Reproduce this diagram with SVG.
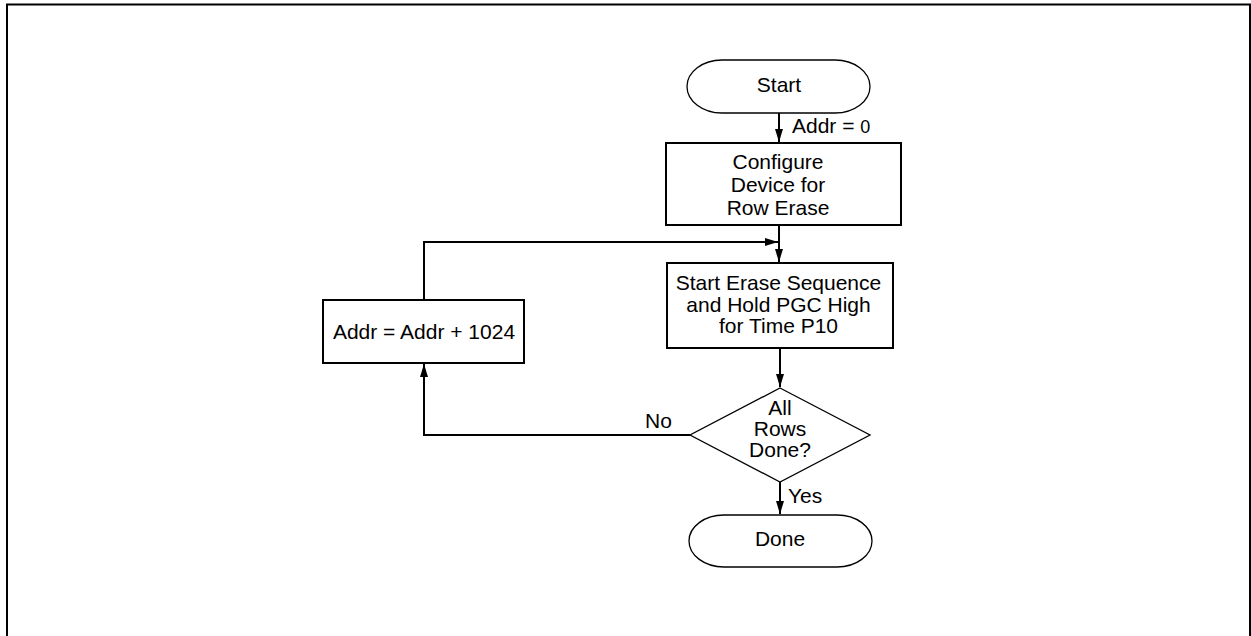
<svg xmlns="http://www.w3.org/2000/svg" width="1251" height="636" viewBox="0 0 1251 636">
<style>
.frame{fill:none;stroke:#000;stroke-width:2}
.box{fill:#fff;stroke:#000;stroke-width:2}
.shape{fill:#fff;stroke:#000;stroke-width:1.3}
.conn{fill:none;stroke:#000;stroke-width:2}
text{font-family:"Liberation Sans",Arial,sans-serif;font-size:21px;fill:#000}
.c{text-anchor:middle}
</style>
<defs>
<marker id="arr" markerUnits="userSpaceOnUse" markerWidth="14" markerHeight="10" viewBox="0 0 14 10" refX="13" refY="5" orient="auto">
<path d="M0,1 L13,5 L0,9 Z" fill="#000"/>
</marker>
</defs>
<rect width="1251" height="636" fill="#fff"/>
<path class="frame" d="M7,636 V4.5 H1250 V636"/>
<g id="connectors">
<line class="conn" x1="779" y1="113" x2="779" y2="142" marker-end="url(#arr)"/>
<line class="conn" x1="779" y1="225" x2="779" y2="262" marker-end="url(#arr)"/>
<polyline class="conn" points="424,300 424,242 778,242" marker-end="url(#arr)"/>
<line class="conn" x1="780" y1="348" x2="780" y2="387" marker-end="url(#arr)"/>
<polyline class="conn" points="690,435 424,435 424,364" marker-end="url(#arr)"/>
<line class="conn" x1="780" y1="482" x2="780" y2="514" marker-end="url(#arr)"/>
<text x="792" y="133">Addr = <tspan font-size="18">0</tspan></text>
<text x="645" y="428">No</text>
<text x="788" y="503">Yes</text>
</g>
<g id="start">
<path class="shape" d="M722,60 H835 A35,26.5 0 0 1 835,113 H722 A35,26.5 0 0 1 722,60 Z"/>
<text class="c" x="779" y="92">Start</text>
</g>
<g id="configure">
<rect class="box" x="666" y="143" width="235" height="82"/>
<text class="c" x="778" y="169">Configure</text>
<text class="c" x="778" y="192">Device for</text>
<text class="c" x="778" y="215">Row Erase</text>
</g>
<g id="erase">
<rect class="box" x="667" y="263" width="226" height="85"/>
<text class="c" x="778.5" y="290">Start Erase Sequence</text>
<text class="c" x="778.5" y="312">and Hold PGC High</text>
<text class="c" x="778.5" y="333">for Time P10</text>
</g>
<g id="increment">
<rect class="box" x="323" y="300" width="201" height="63"/>
<text class="c" x="424" y="339">Addr = Addr + 1024</text>
</g>
<g id="decision">
<polygon class="shape" points="780,388 870,435 780,482 690,435"/>
<text class="c" x="780" y="415">All</text>
<text class="c" x="780" y="436">Rows</text>
<text class="c" x="780" y="457">Done?</text>
</g>
<g id="done">
<path class="shape" d="M724,515 H837 A35,26 0 0 1 837,567 H724 A35,26 0 0 1 724,515 Z"/>
<text class="c" x="780" y="546">Done</text>
</g>
</svg>
